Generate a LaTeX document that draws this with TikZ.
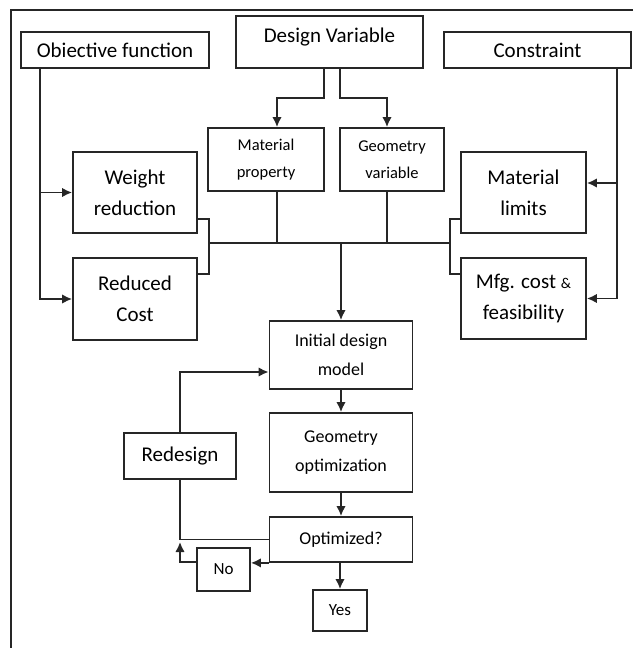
\documentclass[tikz,border=0pt]{standalone}
\usepackage{fontspec}
\setmainfont{Carlito}
\usepackage{tikz}
\usetikzlibrary{positioning,arrows.meta}
\definecolor{lineGray}{HTML}{262626}
\tikzstyle{boxBig}  =[draw=lineGray, line width=1.8pt, inner sep=0pt, align=center, font=\fontsize{21}{31}\selectfont]
\tikzstyle{boxMid}  =[boxBig, font=\fontsize{18}{29}\selectfont]
\tikzstyle{boxSmall}=[boxBig, font=\fontsize{16.5}{27}\selectfont]
\tikzstyle{boxTiny} =[boxBig, font=\fontsize{17}{20}\selectfont]
\tikzstyle{link}    =[draw=lineGray, line width=1.8pt]

\begin{document}
\begin{tikzpicture}[x=1pt, y=-1pt, >={Latex[length=10pt,width=9.5pt]}, on grid]
  \useasboundingbox (0,0) rectangle (633,648);
  \draw[link] (633,10) -- (11,10) -- (11,648);
  % inputs
  \node[boxBig, minimum width=188pt, minimum height=36pt] (obj) at (115,50) {Obiective function};
  \node[boxBig, minimum width=187pt, minimum height=52pt, text height=15pt, text depth=15pt] (dv) at (329.5,42) {Design Variable};
  \node[boxBig, minimum width=187pt, minimum height=36pt] (cons) at (537.5,50) {Constraint};
  \node[boxSmall, minimum width=116pt, minimum height=63pt] (matp) at (266,159.5) {Material\\property};
  \node[boxSmall, minimum width=104pt, minimum height=63pt] (geov) at (392,159.5) {Geometry\\variable};
  \node[boxBig, minimum width=124pt, minimum height=81pt] (wred) at (135,192.5) {Weight\\reduction};
  \node[boxBig, minimum width=124pt, minimum height=82pt] (rcost) at (135,299) {Reduced\\Cost};
  \node[boxBig, minimum width=125pt, minimum height=81pt] (mlim) at (523.5,192.5) {Material\\limits};
  \node[boxBig, minimum width=125pt, minimum height=81pt] (mfg) at (523.5,298.5) {Mfg. cost {\fontsize{15}{15}\selectfont\&}\\feasibility};
  % loop
  \node[boxMid, minimum width=143pt, minimum height=68pt] (init) at (341,355) {Initial design\\model};
  \node[boxMid, minimum width=143pt, minimum height=79pt] (gopt) [below=97.5pt of init] {Geometry\\optimization};
  \node[boxMid, minimum width=143pt, minimum height=45pt] (optq) [below=87pt of gopt] {Optimized?};
  \node[boxTiny, minimum width=54pt, minimum height=41pt] (yes) [below left=71pt and 1pt of optq] {Yes};
  \node[boxBig, minimum width=112pt, minimum height=46pt] (redes) at (180,456) {Redesign};
  \node[boxTiny, minimum width=53pt, minimum height=43pt] (no) at (223.5,569.5) {No};
  \coordinate (bl) at (209,243);
  \coordinate (br) at (450,243);
  \coordinate (nt) at (180,542);

  \draw[link,->] ([xshift=-5.5pt]dv.south) -- ++(0,29) -| ([xshift=11pt]matp.north);
  \draw[link,->] ([xshift=10.5pt]dv.south) -- ++(0,29) -| ([xshift=-5pt]geov.north);
  \draw[link,->] ([xshift=-75pt]obj.south) |- (wred.west);
  \draw[link,->] ([xshift=-75pt]obj.south) |- (rcost.west);
  \draw[link,->] ([xshift=79.5pt]cons.south) |- ([yshift=9.5pt]mlim.east);
  \draw[link,->] ([xshift=79.5pt]cons.south) |- (mfg.east);
  \draw[link] ([yshift=-26.5pt]wred.east) -| (bl) |- ([yshift=25pt]rcost.east);
  \draw[link] ([yshift=-26.5pt]mlim.west) -| (br) |- ([yshift=24.5pt]mfg.west);
  \draw[link] (bl) -- (br);
  \draw[link] ([xshift=11pt]matp.south) -- ++(0,52);
  \draw[link] ([xshift=-5pt]geov.south) -- ++(0,52);
  \draw[link,->] (init.north |- bl) -- (init.north);
  \draw[link,->] (init) -- (gopt);
  \draw[link,->] (gopt) -- (optq);
  \draw[link,->] (optq.south -| yes.north) -- (yes.north);
  \draw[link,->] (redes.north) |- ([yshift=-17pt]init.west);
  \draw[link] (redes.south) |- (optq.west);
  \draw[link,->] (optq.south west) -- (optq.south west -| no.east);
  \draw[link,->] ([yshift=7.5pt]no.west) -| (nt);
\end{tikzpicture}
\end{document}
